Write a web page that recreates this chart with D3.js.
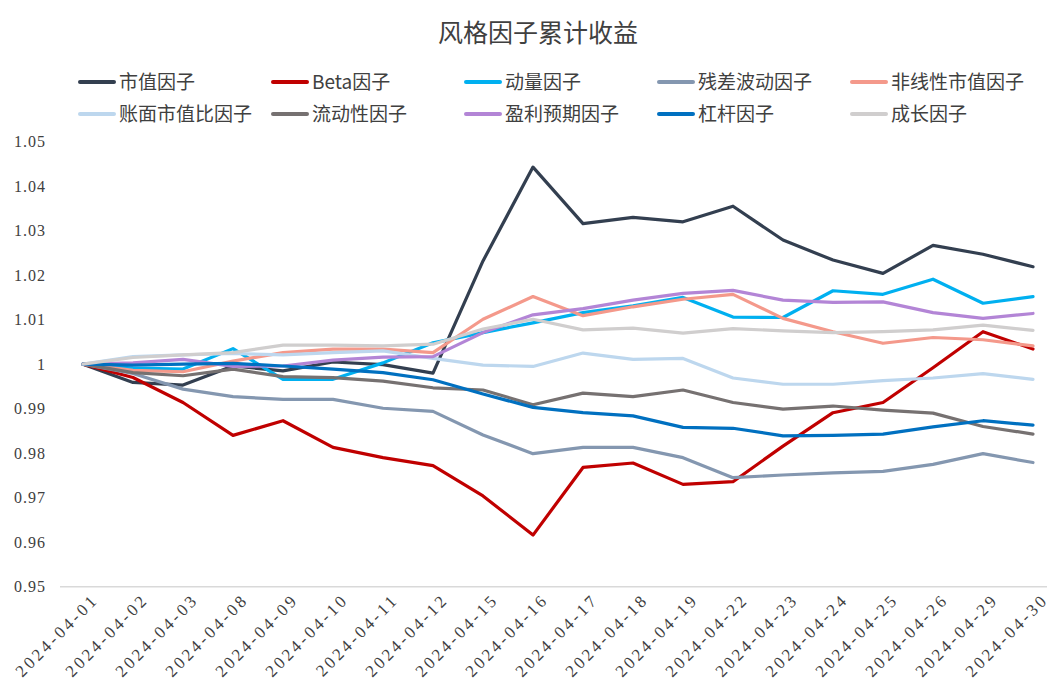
<!DOCTYPE html>
<html><head><meta charset="utf-8">
<script src="https://cdn.jsdelivr.net/npm/d3@7"></script>
<style>
body{margin:0;background:#fff;}
svg{display:block;}
</style></head>
<body><svg id="chart" width="1060" height="690"></svg>
<script>
const dates = ["2024-04-01","2024-04-02","2024-04-03","2024-04-08","2024-04-09","2024-04-10","2024-04-11","2024-04-12","2024-04-15","2024-04-16","2024-04-17","2024-04-18","2024-04-19","2024-04-22","2024-04-23","2024-04-24","2024-04-25","2024-04-26","2024-04-29","2024-04-30"];
const seriesNames = ["市值因子","Beta因子","动量因子","残差波动因子","非线性市值因子","账面市值比因子","流动性因子","盈利预期因子","杠杆因子","成长因子"];
const seriesColors = ["#333F50","#C00000","#00B0F0","#8497B0","#F4998B","#BDD7EE","#767171","#B385D6","#0070C0","#D0CECE"];
const sizeVals     = [1.0000,0.9959,0.9953,0.9996,0.9985,1.0005,0.9999,0.9980,1.0232,1.0443,1.0316,1.0330,1.0320,1.0355,1.0279,1.0234,1.0204,1.0267,1.0247,1.0219];
const betaVals     = [1.0000,0.9970,0.9914,0.9840,0.9873,0.9813,0.9790,0.9772,0.9704,0.9616,0.9768,0.9778,0.9730,0.9736,0.9816,0.9891,0.9914,0.9992,1.0073,1.0034];
const momentumVals = [1.0000,0.9991,0.9989,1.0035,0.9966,0.9966,1.0003,1.0048,1.0071,1.0093,1.0116,1.0131,1.0150,1.0106,1.0105,1.0165,1.0157,1.0191,1.0137,1.0152];
const resVolVals   = [1.0000,0.9979,0.9944,0.9927,0.9921,0.9921,0.9901,0.9894,0.9841,0.9799,0.9813,0.9813,0.9790,0.9745,0.9751,0.9756,0.9759,0.9775,0.9799,0.9779];
const nlSizeVals   = [1.0000,0.9986,0.9983,1.0007,1.0026,1.0034,1.0034,1.0026,1.0101,1.0152,1.0109,1.0129,1.0146,1.0157,1.0103,1.0073,1.0047,1.0060,1.0055,1.0041];
const bpVals       = [1.0000,1.0017,1.0021,1.0024,1.0021,1.0026,1.0030,1.0013,0.9998,0.9995,1.0025,1.0011,1.0013,0.9969,0.9955,0.9955,0.9963,0.9969,0.9979,0.9966];
const liqVals      = [1.0000,0.9981,0.9974,0.9989,0.9972,0.9970,0.9962,0.9947,0.9942,0.9909,0.9935,0.9927,0.9942,0.9914,0.9899,0.9906,0.9897,0.9890,0.9860,0.9843];
const earnVals     = [1.0000,1.0003,1.0011,0.9995,0.9996,1.0009,1.0016,1.0017,1.0071,1.0111,1.0125,1.0144,1.0159,1.0166,1.0144,1.0139,1.0140,1.0116,1.0103,1.0114];
const levVals      = [1.0000,0.9998,1.0000,1.0002,0.9996,0.9989,0.9981,0.9965,0.9933,0.9903,0.9891,0.9884,0.9858,0.9856,0.9839,0.9840,0.9843,0.9859,0.9873,0.9863];
const growthVals   = [1.0000,1.0015,1.0021,1.0026,1.0043,1.0043,1.0041,1.0045,1.0079,1.0101,1.0077,1.0081,1.0070,1.0080,1.0075,1.0071,1.0073,1.0077,1.0088,1.0076];
const yTicks = [0.95,0.96,0.97,0.98,0.99,1,1.01,1.02,1.03,1.04,1.05];

const allVals = [sizeVals,betaVals,momentumVals,resVolVals,nlSizeVals,bpVals,liqVals,earnVals,levVals,growthVals];
const series = seriesNames.map((n,i)=>({name:n,color:seriesColors[i],values:allVals[i]}));

const svg = d3.select("#chart");
const latin = "'Liberation Serif', 'DejaVu Serif', serif";
const cjk = "'Noto Sans CJK SC', sans-serif";

const x = d3.scalePoint().domain(dates).range([83,1033]);
const y = d3.scaleLinear().domain([0.95,1.05]).range([586.7,141.7]);

// title
svg.append("text").attr("x",538).attr("y",42).attr("text-anchor","middle")
  .style("font-family",cjk).style("font-size","25px").style("fill","#404040")
  .text("风格因子累计收益");

// legend
const legCols = [80,273,466,659,852];
const legRows = [82,114];
series.forEach((s,i)=>{
  const cx = legCols[i%5], cy = legRows[Math.floor(i/5)];
  const g = svg.append("g");
  g.append("line").attr("x1",cx).attr("x2",cx+34).attr("y1",cy).attr("y2",cy)
    .attr("stroke",s.color).attr("stroke-width",4).attr("stroke-linecap","round");
  g.append("text").attr("x",cx+39).attr("y",cy+7)
    .style("font-family",cjk+","+latin).style("font-size","19px").style("fill","#404040")
    .text(s.name);
});

// y axis labels
const yAxis = d3.axisLeft(y).tickValues(yTicks).tickSize(0).tickPadding(0)
  .tickFormat(d=> d===1 ? "1" : d3.format(".2f")(d));
const yg = svg.append("g").attr("transform","translate(46,0)").call(yAxis);
yg.select(".domain").remove();
yg.selectAll("text").style("font-family",latin).style("font-size","16px").style("fill","#404040")
  .attr("letter-spacing","1px");

// x axis
const xAxis = d3.axisBottom(x).tickSize(0).tickPadding(0);
const xg = svg.append("g").attr("transform","translate(0,586.7)").call(xAxis);
xg.select(".domain").remove();
xg.selectAll("text").style("font-family",latin).style("font-size","17px").style("fill","#404040")
  .attr("letter-spacing","3px")
  .attr("text-anchor","end").attr("dy",null).attr("y",0)
  .attr("transform","translate(16,14) rotate(-45)");

// baseline
svg.append("line").attr("x1",60).attr("x2",1047).attr("y1",y(0.95)).attr("y2",y(0.95))
  .attr("stroke","#D9D9D9").attr("stroke-width",1.5);

// lines
const line = d3.line().x((d,i)=>x(dates[i])).y(d=>y(d));
svg.append("g").selectAll("path").data(series).join("path")
  .attr("d",d=>line(d.values)).attr("fill","none")
  .attr("stroke",d=>d.color).attr("stroke-width",3.2)
  .attr("stroke-linejoin","round").attr("stroke-linecap","round");
</script></body></html>
